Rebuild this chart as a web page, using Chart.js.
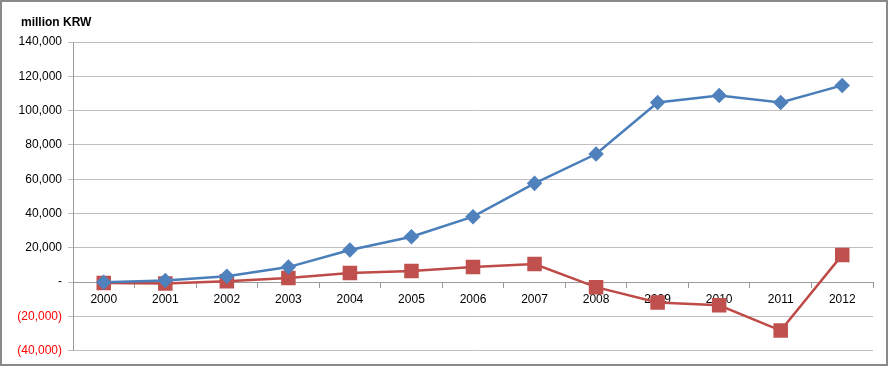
<!DOCTYPE html>
<html>
<head>
<meta charset="utf-8">
<script src="https://cdn.jsdelivr.net/npm/chart.js@4"></script>
<style>
html,body{margin:0;padding:0;background:#fff;}
#wrap{position:absolute;left:0;top:0;width:888px;height:366px;box-sizing:border-box;border:2px solid #8a8a8a;background:#fff;}
#c{display:block;}
</style>
</head>
<body>
<div id="wrap"><canvas id="c" width="884" height="362"></canvas></div>
<script>
const years = ['2000','2001','2002','2003','2004','2005','2006','2007','2008','2009','2010','2011','2012'];
const seriesBlue = [0, 1000, 3500, 8800, 18800, 26500, 38200, 57600, 74700, 104700, 108800, 104700, 114700];
const seriesRed = [-500, -800, 600, 2400, 5300, 6500, 8800, 10600, -2900, -11800, -13500, -28200, 15900];
const unitLabel = 'million KRW';
const yMin = -40000, yMax = 140000, yStep = 20000;

const fmt = v => Math.abs(v).toLocaleString('en-US');

const titlePlugin = {
  id: 'unitTitle',
  afterDraw(chart) {
    const ctx = chart.ctx;
    ctx.save();
    ctx.font = 'bold 12px "Liberation Sans", Arial, sans-serif';
    ctx.fillStyle = '#000';
    ctx.textBaseline = 'middle';
    ctx.textAlign = 'left';
    ctx.fillText(unitLabel, 19, 21);
    ctx.restore();
  }
};

new Chart(document.getElementById('c'), {
  type: 'line',
  data: {
    labels: years,
    datasets: [
      {
        data: seriesBlue,
        borderColor: '#4A7EBB',
        backgroundColor: '#4F81BD',
        pointBackgroundColor: '#4F81BD',
        pointBorderColor: '#4F81BD',
        borderWidth: 2.5,
        pointStyle: 'rectRot',
        pointRadius: 6,
        tension: 0
      },
      {
        data: seriesRed,
        borderColor: '#BE4B48',
        backgroundColor: '#C0504D',
        pointBackgroundColor: '#C0504D',
        pointBorderColor: '#C0504D',
        borderWidth: 2.5,
        pointStyle: 'rect',
        pointRadius: 8.5,
        tension: 0
      }
    ]
  },
  options: {
    responsive: false,
    animation: false,
    layout: { padding: { left: 0, right: 13, top: 40, bottom: 13 } },
    plugins: { legend: { display: false }, tooltip: { enabled: false } },
    scales: {
      x: {
        position: { y: 0 },
        offset: true,
        grid: { display: true, drawOnChartArea: false, offset: true, tickLength: 5, color: '#9a9a9a' },
        border: { display: true, color: '#9a9a9a' },
        ticks: { color: '#000', padding: 5, font: { family: '"Liberation Sans", Arial, sans-serif', size: 12 }, maxRotation: 0, autoSkip: false }
      },
      y: {
        min: yMin,
        max: yMax,
        afterFit(scale) { scale.width = 71; },
        grid: { color: '#bfbfbf', lineWidth: 1, tickLength: 5 },
        border: { display: true, color: '#9a9a9a' },
        ticks: {
          stepSize: yStep,
          padding: 6,
          font: { family: '"Liberation Sans", Arial, sans-serif', size: 12 },
          color: c => (c.tick && c.tick.value < 0) ? '#FF0000' : '#000',
          callback: v => v === 0 ? '-' : (v < 0 ? '(' + fmt(v) + ')' : fmt(v))
        }
      }
    }
  },
  plugins: [titlePlugin]
});
</script>
</body>
</html>
